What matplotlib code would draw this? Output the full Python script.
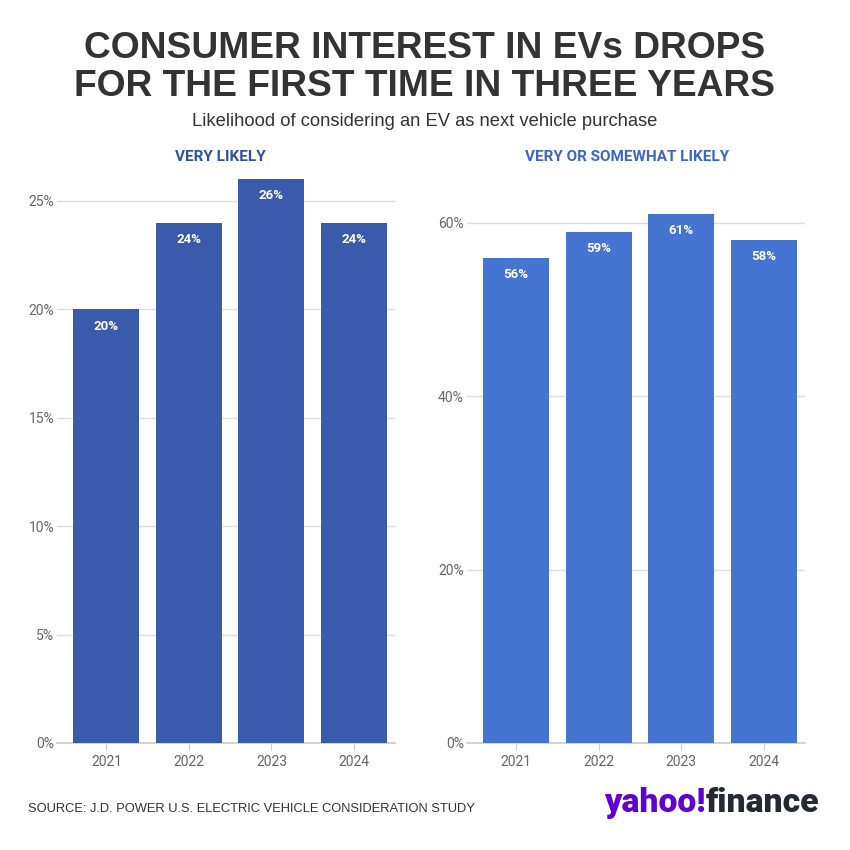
import matplotlib.pyplot as plt

# data
years = ['2021', '2022', '2023', '2024']
very_likely = [20, 24, 26, 24]
somewhat_likely = [56, 59, 61, 58]

left_ticks = [0, 5, 10, 15, 20, 25]
right_ticks = [0, 20, 40, 60]

plt.rcParams['font.family'] = ['Roboto', 'DejaVu Sans']

fig = plt.figure(figsize=(8.5, 8.5), dpi=100)
fig.patch.set_facecolor('white')

helv = ['Liberation Sans', 'DejaVu Sans']

# titles
fig.text(0.5, 0.9318, 'CONSUMER INTEREST IN EVs DROPS', ha='center', va='baseline',
         fontsize=26.7, fontweight='bold', color='#333333', family=helv)
fig.text(0.5, 0.887, 'FOR THE FIRST TIME IN THREE YEARS', ha='center', va='baseline',
         fontsize=26.7, fontweight='bold', color='#333333', family=helv)
fig.text(0.5, 0.8518, 'Likelihood of considering an EV as next vehicle purchase',
         ha='center', va='baseline', fontsize=13.2, color='#333333', family=helv)


def panel(rect, vals, ticks, top, color, title, title_x, title_color):
    ax = fig.add_axes(rect)
    x = range(len(vals))
    bars = ax.bar(x, vals, width=0.8, color=color, zorder=3)
    ax.set_xlim(-0.6, 3.5)
    ax.set_ylim(0, top)
    ax.set_yticks(ticks)
    ax.set_yticklabels([f'{t}%' for t in ticks])
    ax.set_xticks(list(x))
    ax.set_xticklabels(years)
    ax.grid(axis='y', color='#dddddd', linewidth=1, zorder=0)
    for s in ['top', 'right', 'left']:
        ax.spines[s].set_visible(False)
    ax.spines['bottom'].set_color('#cccccc')
    ax.spines['bottom'].set_linewidth(1.2)
    ax.tick_params(axis='y', length=0, pad=2, labelsize=10, labelcolor='#666666')
    ax.tick_params(axis='x', length=5, color='#cccccc', pad=4, labelsize=10,
                   labelcolor='#666666')
    for b, v in zip(bars, vals):
        ax.annotate(f'{v}%', (b.get_x() + b.get_width() / 2, v),
                    xytext=(0, -12), textcoords='offset points',
                    ha='center', va='center', color='white',
                    fontsize=9.5, fontweight='bold', zorder=4)
    fig.text(title_x, 0.815, title, ha='center', va='center', fontsize=11,
             fontweight='bold', color=title_color)
    return ax


panel([0.067, 0.126, 0.398, 0.674], very_likely, left_ticks, 26.43,
      '#3a5bab', 'VERY LIKELY', 0.259, '#2f4f9f')
panel([0.549, 0.126, 0.398, 0.674], somewhat_likely, right_ticks, 66.1,
      '#4674d1', 'VERY OR SOMEWHAT LIKELY', 0.738, '#3a66c4')

# footer
fig.text(0.033, 0.0447, 'SOURCE: J.D. POWER U.S. ELECTRIC VEHICLE CONSIDERATION STUDY',
         ha='left', va='baseline', fontsize=9.3, color='#333333', family=helv)
t1 = fig.text(0.711, 0.0447, 'yahoo!', ha='left', va='baseline', fontsize=24.3,
              fontweight='black', color='#6001d2')
fig.canvas.draw()
bb = t1.get_window_extent()
x2 = bb.x1 / fig.bbox.width
fig.text(x2, 0.0447, 'finance', ha='left', va='baseline', fontsize=24.3,
         fontweight='black', color='#232a31')

fig.savefig('out.png', dpi=100)
